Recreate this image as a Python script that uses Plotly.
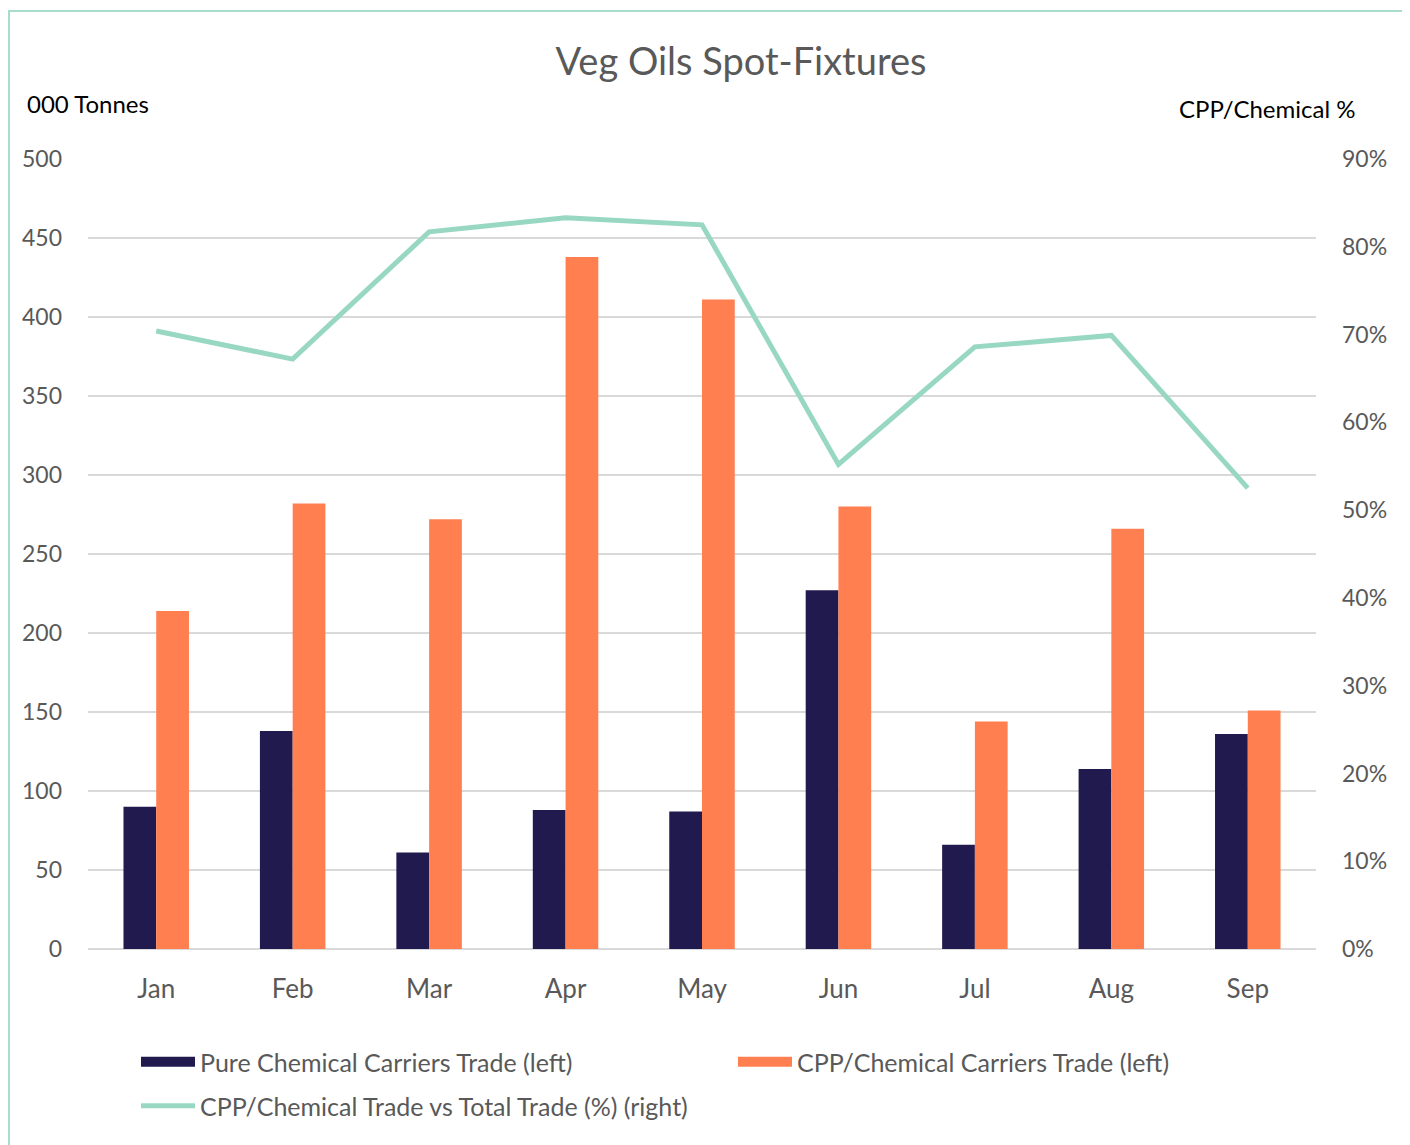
import plotly.graph_objects as go

months = ["Jan", "Feb", "Mar", "Apr", "May", "Jun", "Jul", "Aug", "Sep"]
pure_chem = [90, 138, 61, 88, 87, 227, 66, 114, 136]
cpp_chem = [214, 282, 272, 438, 411, 280, 144, 266, 151]
cpp_share = [70.4, 67.2, 81.7, 83.3, 82.5, 55.2, 68.6, 69.9, 52.5]

left_ticks = list(range(0, 501, 50))
right_ticks = list(range(0, 91, 10))
right_labels = [f"{v}%" for v in right_ticks]

FONT = "Lato, 'Open Sans', sans-serif"
GREY = "#595959"
NAVY = "#201A4E"
ORANGE = "#FF7F50"
TEAL = "#98D8C3"

# figure space (page is offset by 8px body margin)
W, H = 1402, 1137
L, R, T, B = 80, 94, 151, 196
PW = W - L - R
PH = H - T - B


def px(fx):
    return (fx - L) / PW


def py(fy):
    return (T + PH - fy) / PH


fig = go.Figure()
fig.add_trace(go.Bar(x=months, y=pure_chem, name="Pure Chemical Carriers Trade (left)",
                     marker=dict(color=NAVY, line=dict(width=0)), showlegend=False))
fig.add_trace(go.Bar(x=months, y=cpp_chem, name="CPP/Chemical Carriers Trade (left)",
                     marker=dict(color=ORANGE, line=dict(width=0)), showlegend=False))
# legend entries for the bars (wide rectangular keys)
fig.add_trace(go.Scatter(x=[None], y=[None], mode="lines", name="Pure Chemical Carriers Trade (left)",
                         line=dict(color=NAVY, width=15), legend="legend", hoverinfo="skip"))
fig.add_trace(go.Scatter(x=[None], y=[None], mode="lines", name="CPP/Chemical Carriers Trade (left)",
                         line=dict(color=ORANGE, width=15), legend="legend", hoverinfo="skip"))
fig.add_trace(go.Scatter(x=months, y=cpp_share, name="CPP/Chemical Trade vs Total Trade (%) (right)",
                         mode="lines", yaxis="y2", legend="legend2",
                         line=dict(color=TEAL, width=5)))

legend_common = dict(orientation="h", xanchor="left", yanchor="middle",
                     itemwidth=54, font=dict(size=25, color=GREY, family=FONT),
                     bgcolor="rgba(0,0,0,0)", borderwidth=0)

fig.update_layout(
    width=W, height=H,
    margin=dict(l=L, r=R, t=T, b=B),
    paper_bgcolor="white", plot_bgcolor="white",
    font=dict(family=FONT, color=GREY, size=22),
    title=dict(text="Veg Oils Spot-Fixtures", x=733 / W, xanchor="center",
               y=1 - 54 / H, yanchor="middle",
               font=dict(size=38, color=GREY, family=FONT)),
    barmode="group", bargap=0.52, bargroupgap=0,
    showlegend=True,
    legend=dict(**legend_common, x=px(128), y=py(1054),
                entrywidth=528, entrywidthmode="pixels"),
    legend2=dict(**legend_common, x=px(128), y=py(1098)),
    xaxis=dict(showgrid=False, showline=False, ticks="",
               tickfont=dict(size=26, color=GREY), ticklabelstandoff=22),
    yaxis=dict(range=[0, 500], tickvals=left_ticks, showgrid=True,
               gridcolor="#D9D9D9", gridwidth=1.5, zeroline=True,
               zerolinecolor="#D9D9D9", zerolinewidth=2,
               ticks="", tickfont=dict(size=23, color=GREY), ticklabelstandoff=25),
    yaxis2=dict(range=[0, 90], tickvals=right_ticks, ticktext=right_labels,
                overlaying="y", side="right", showgrid=False, zeroline=False,
                ticks="", tickfont=dict(size=23, color=GREY), ticklabelstandoff=25),
    annotations=[
        dict(text="000 Tonnes", xref="paper", yref="paper",
             x=px(17), y=py(95), xanchor="left", yanchor="middle",
             showarrow=False, font=dict(size=24, color="black", family=FONT)),
        dict(text="CPP/Chemical %", xref="paper", yref="paper",
             x=px(1349), y=py(100), xanchor="right", yanchor="middle",
             showarrow=False, font=dict(size=24, color="black", family=FONT)),
    ],
    shapes=[
        dict(type="rect", xref="paper", yref="paper",
             x0=px(1), x1=px(1397), y0=py(1160), y1=py(3),
             line=dict(color="#A8DCCB", width=2), fillcolor="rgba(0,0,0,0)",
             layer="below"),
    ],
)

fig.write_html("out.html")
